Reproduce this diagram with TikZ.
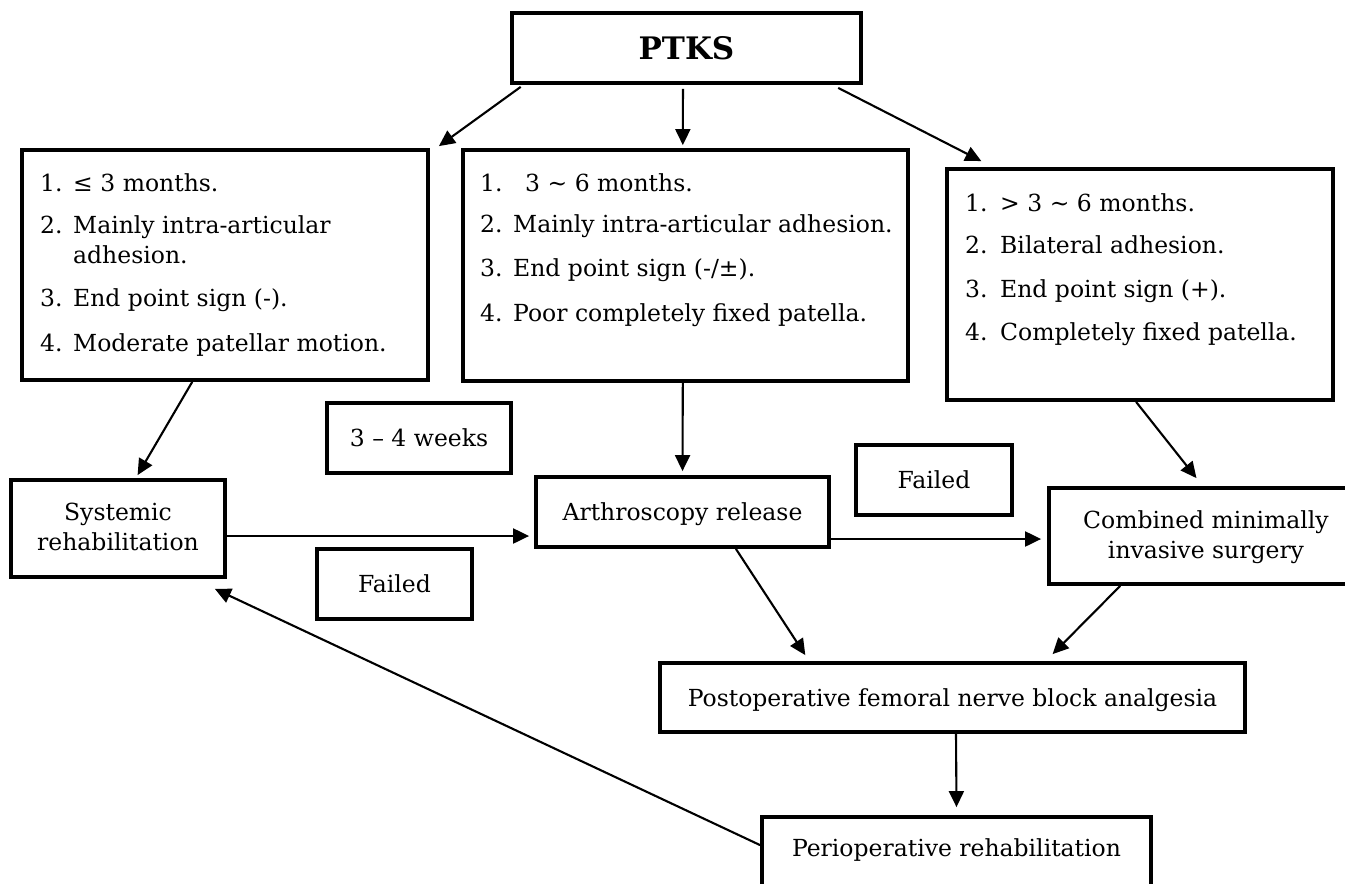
\documentclass[tikz,border=0pt]{standalone}
\usepackage{fontspec}
\setmainfont{DejaVu Serif}
\usetikzlibrary{arrows.meta,calc}
\newcommand\myfs{\fontsize{23.5pt}{30pt}\selectfont}
\newcommand\mybig{\fontsize{31pt}{36pt}\selectfont\bfseries}
\begin{document}
\begin{tikzpicture}[x=1pt,y=-1pt,
  box/.style={draw, line width=3.8pt, rectangle, inner sep=0pt, font=\myfs,
    text height=17pt, text depth=0pt},
  arr/.style={line width=2.1pt, -{Triangle[length=16pt,width=15pt]}},
  txt/.style={inner sep=0pt, font=\myfs},
]
\useasboundingbox (0,0) rectangle (1345,884);
\fill[white] (0,0) rectangle (1345,884);
\clip (0,0) rectangle (1345,884);

% boxes
\node[box, minimum width=349pt, minimum height=70pt, font=\mybig, text height=22pt] (ptks) at (686.5,48) {PTKS};
\node[box, minimum width=406pt, minimum height=230pt] (lbox) at (225,265) {};
\node[box, minimum width=445pt, minimum height=231pt] (mbox) at (685.5,265.5) {};
\node[box, minimum width=386pt, minimum height=231pt] (rbox) at (1140,284.5) {};
\node[box, minimum width=184pt, minimum height=70pt] (weeks) at (419,438) {3 – 4 weeks};
\node[box, minimum width=214pt, minimum height=97pt] (sys) at (118,528.5) {};
\node[box, minimum width=293pt, minimum height=70pt] (arth) at (682.5,512) {Arthroscopy release};
\node[box, minimum width=155pt, minimum height=70pt] (failA) at (394.5,584) {Failed};
\node[box, minimum width=156pt, minimum height=70pt] (failB) at (934,480) {Failed};
\node[box, minimum width=314pt, minimum height=96pt] (comb) at (1206,536) {};
\node[box, minimum width=585pt, minimum height=69pt] (post) at (952.5,697.5) {Postoperative femoral nerve block analgesia};
\node[box, minimum width=389pt, minimum height=70pt] (peri) at (956.5,852) {};

% multi-line texts
\node[txt, anchor=base] (sysA) at (118,520.5) {Systemic};
\node[txt, anchor=base] (sysB) at (118,550.5) {rehabilitation};
\node[txt, anchor=base] (combA) at (1206,528.5) {Combined minimally};
\node[txt, anchor=base] (combB) at (1206,558.5) {invasive surgery};
\node[txt, anchor=base] (periT) at (956.5,856.5) {Perioperative rehabilitation};

% left list
\node[txt, anchor=base west] (ln1) at (40,191) {1.};
\node[txt, anchor=base west] (lt1) at (73,191) {≤ 3 months.};
\node[txt, anchor=base west] (ln2) at (40,233) {2.};
\node[txt, anchor=base west] (lt2) at (73,233) {Mainly intra-articular};
\node[txt, anchor=base west] (lt2b) at (73,263) {adhesion.};
\node[txt, anchor=base west] (ln3) at (40,306) {3.};
\node[txt, anchor=base west] (lt3) at (73,306) {End point sign (-).};
\node[txt, anchor=base west] (ln4) at (40,351) {4.};
\node[txt, anchor=base west] (lt4) at (73,351) {Moderate patellar motion.};

% middle list
\node[txt, anchor=base west] (mn1) at (480,191) {1.};
\node[txt, anchor=base west] (mt1) at (525,191) {3 \char"7E{} 6 months.};
\node[txt, anchor=base west] (mn2) at (480,232) {2.};
\node[txt, anchor=base west] (mt2) at (513,232) {Mainly intra-articular adhesion.};
\node[txt, anchor=base west] (mn3) at (480,276) {3.};
\node[txt, anchor=base west] (mt3) at (513,276) {End point sign (-/±).};
\node[txt, anchor=base west] (mn4) at (480,321) {4.};
\node[txt, anchor=base west] (mt4) at (513,321) {Poor completely fixed patella.};

% right list
\node[txt, anchor=base west] (rn1) at (965,211) {1.};
\node[txt, anchor=base west] (rt1) at (1000,211) {> 3 \char"7E{} 6 months.};
\node[txt, anchor=base west] (rn2) at (965,253) {2.};
\node[txt, anchor=base west] (rt2) at (1000,253) {Bilateral adhesion.};
\node[txt, anchor=base west] (rn3) at (965,297) {3.};
\node[txt, anchor=base west] (rt3) at (1000,297) {End point sign (+).};
\node[txt, anchor=base west] (rn4) at (965,340) {4.};
\node[txt, anchor=base west] (rt4) at (1000,340) {Completely fixed patella.};

% arrows
\draw[arr] ($(ptks.south west)!0.03!(ptks.south east)+(0,2)$) -- ($(lbox.north east)+(9,-2)$);
\draw[arr] ($(ptks.south west)!0.49!(ptks.south east)+(0,4)$) -- ($(mbox.north west)!0.494!(mbox.north east)+(0,-3)$);
\draw[arr] ($(ptks.south west)!0.93!(ptks.south east)+(0,3)$) -- ($(rbox.north west)!0.093!(rbox.north east)+(0,-6)$);
\draw[arr] ($(lbox.south west)!0.42!(lbox.south east)$) -- ($(sys.north west)!0.59!(sys.north east)+(0,-3)$);
\draw[arr] ($(mbox.south west)!0.494!(mbox.south east)$) -- ($(arth.north west)!0.50!(arth.north east)+(0,-4)$);
\draw[arr] ($(rbox.south west)!0.49!(rbox.south east)$) -- ($(comb.north west)!0.47!(comb.north east)+(0,-8)$);
\draw[arr] ($(sys.east)+(0,7.5)$) -- ($(arth.west)+(-5,24)$);
\draw[arr] ($(arth.east)+(0,27)$) -- ($(comb.west)+(-6,3)$);
\draw[arr] ($(arth.south west)!0.68!(arth.south east)$) -- ($(post.north west)!0.25!(post.north east)+(0,-6)$);
\draw[arr] ($(comb.south west)!0.23!(comb.south east)$) -- ($(post.north west)!0.67!(post.north east)+(0,-7)$);
\draw[arr] ($(post.south)+(3.5,0)$) -- ($(peri.north)+(0,-8)$);
\draw[arr] ($(peri.north west)+(0,30)$) -- ($(sys.south east)+(-12,10)$);
\end{tikzpicture}
\end{document}
